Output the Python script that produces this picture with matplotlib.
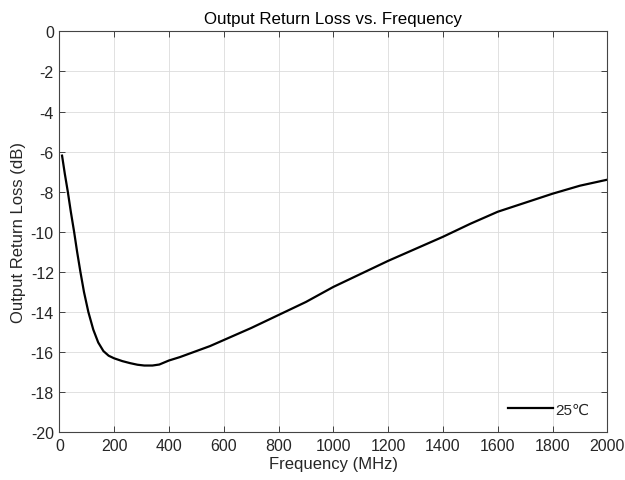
import matplotlib
matplotlib.use("Agg")
import matplotlib.pyplot as plt

# data
freq_mhz = [10, 20, 31, 42, 54, 65, 77, 90, 106, 124, 142, 161, 180, 200,
            230, 258, 285, 310, 340, 365, 400, 440, 500, 550, 600, 700, 800,
            900, 1000, 1100, 1200, 1300, 1400, 1500, 1600, 1700, 1800, 1900,
            2000]
loss_db = [-6.2, -7.1, -8.0, -9.0, -10.0, -11.0, -12.0, -13.0, -14.0, -14.88,
           -15.52, -15.95, -16.18, -16.31, -16.45, -16.55, -16.63, -16.67,
           -16.67, -16.62, -16.42, -16.25, -15.95, -15.7, -15.4, -14.8, -14.15,
           -13.5, -12.75, -12.1, -11.45, -10.85, -10.25, -9.6, -9.0, -8.55,
           -8.1, -7.7, -7.4]
series_label = "25℃"
x_ticks = list(range(0, 2001, 200))
y_ticks = list(range(-20, 1, 2))

plt.rcParams["font.family"] = ["Liberation Sans", "DejaVu Sans"]
plt.rcParams["axes.unicode_minus"] = False
INK = "#262626"

fig = plt.figure(figsize=(6.25, 4.81), dpi=100)
ax = fig.add_axes([0.0949, 0.0992, 0.8768, 0.8336])

ax.plot(freq_mhz, loss_db, color="black", lw=1.6, label=series_label)

ax.set_xlim(0, 2000)
ax.set_ylim(-20, 0)
ax.set_xticks(x_ticks)
ax.set_yticks(y_ticks)
ax.grid(True, color="#dcdcdc", lw=0.6)
ax.set_axisbelow(True)
ax.tick_params(direction="in", top=True, right=True, labelsize=11.5,
               colors=INK, length=4, width=0.6, pad=4)
for s in ax.spines.values():
    s.set_color("#444444")
    s.set_linewidth(0.8)

ax.set_title("Output Return Loss vs. Frequency", fontsize=12.2, color="black",
             pad=6)
ax.set_xlabel("Frequency (MHz)", fontsize=12, color=INK, labelpad=2)
ax.set_ylabel("Output Return Loss (dB)", fontsize=12, color=INK, labelpad=3)

leg = ax.legend(loc="center right", frameon=False, fontsize=11,
                handlelength=2.95, handletextpad=0.2, borderpad=0,
                borderaxespad=0, bbox_to_anchor=(0.968, 0.056))
for t in leg.get_texts():
    t.set_color(INK)

fig.savefig("out.png", dpi=100)
